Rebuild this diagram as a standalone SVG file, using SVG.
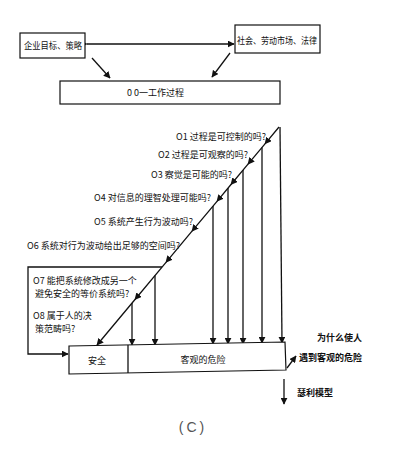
<svg xmlns="http://www.w3.org/2000/svg" width="400" height="450" viewBox="0 0 400 450">
<style>
.box{fill:#fff;stroke:#111;stroke-width:1.2}
.ln{fill:none;stroke:#111;stroke-width:1.3}
.t{font-family:"Noto Sans CJK SC","Liberation Serif",sans-serif;font-size:9px;fill:#111}
.tb{font-family:"Noto Sans CJK SC","Liberation Serif",sans-serif;font-size:9px;fill:#111;font-weight:bold}
</style>
<defs>
<marker id="ah" viewBox="0 0 10 10" refX="9" refY="5" markerWidth="7" markerHeight="7" markerUnits="userSpaceOnUse" orient="auto">
<path d="M0,0 L10,5 L0,10 z" fill="#111"/>
</marker>
</defs>
<rect width="400" height="450" fill="#fff"/>

<g id="connectors">
<line class="ln" x1="87" y1="44" x2="234" y2="44" marker-start="url(#ah)" marker-end="url(#ah)"/>
<line class="ln" x1="92" y1="58" x2="110" y2="78" marker-end="url(#ah)"/>
<line class="ln" x1="230" y1="53" x2="212" y2="77" marker-end="url(#ah)"/>
<path class="ln" d="M279,127 L265,143.8 L248,164.1 L231,184.5 L217,201.3 L192,231.2 L166,262.3 L135,299.5 L97,345" marker-mid="url(#ah)" marker-end="url(#ah)"/>
<line class="ln" x1="280" y1="127" x2="282" y2="343" marker-end="url(#ah)"/>
<line class="ln" x1="262" y1="147.4" x2="262" y2="343" marker-end="url(#ah)"/>
<line class="ln" x1="243" y1="170.1" x2="243" y2="344" marker-end="url(#ah)"/>
<line class="ln" x1="228" y1="188.1" x2="228" y2="344" marker-end="url(#ah)"/>
<line class="ln" x1="213" y1="206.1" x2="213" y2="344" marker-end="url(#ah)"/>
<line class="ln" x1="155" y1="275.5" x2="155" y2="345" marker-end="url(#ah)"/>
<line class="ln" x1="132" y1="303.1" x2="132" y2="345" marker-end="url(#ah)"/>
<polyline class="ln" points="162,267 28,267 28,354 68,354" marker-end="url(#ah)"/>
<line class="ln" x1="287" y1="368" x2="296" y2="356" marker-end="url(#ah)"/>
<line class="ln" x1="284" y1="379" x2="284" y2="404" marker-end="url(#ah)"/>
</g>

<g id="goals">
<rect class="box" x="20" y="33" width="65" height="25"/>
<text class="t" x="24" y="48.5" font-size="8" textLength="58" lengthAdjust="spacingAndGlyphs">企业目标、策略</text>
</g>
<g id="society">
<rect class="box" x="235" y="25" width="85" height="28"/>
<text class="t" x="237" y="44" font-size="8" textLength="80" lengthAdjust="spacingAndGlyphs">社会、劳动市场、法律</text>
</g>
<g id="process">
<rect class="box" x="60" y="81" width="220" height="23"/>
<text class="t" x="127" y="95.5">0 0一工作过程</text>
</g>

<g id="questions">
<text class="t" x="176" y="139.5">O1 过程是可控制的吗?</text>
<text class="t" x="158" y="157.5">O2 过程是可观察的吗?</text>
<text class="t" x="151" y="177.5">O3 察觉是可能的吗?</text>
<text class="t" x="94" y="200.5">O4 对信息的理智处理可能吗?</text>
<text class="t" x="94" y="224.5">O5 系统产生行为波动吗?</text>
<text class="t" x="27" y="248.5" font-size="8.7">O6 系统对行为波动给出足够的空间吗?</text>
<text class="t" x="33" y="284" font-size="7.6">O7 能把系统修改成另一个</text>
<text class="t" x="35" y="296.5" font-size="7.6">避免安全的等价系统吗?</text>
<text class="t" x="33" y="319" font-size="7.6">O8 属于人的决</text>
<text class="t" x="35" y="331.5" font-size="7.6">策范畴吗?</text>
</g>

<g id="outcome">
<polygon class="box" points="69,346 285,342 286,370 69,374"/>
<line class="ln" x1="128" y1="345" x2="128" y2="373"/>
<text class="t" x="97" y="364" text-anchor="middle">安全</text>
<text class="t" x="203" y="363" text-anchor="middle">客观的危险</text>
</g>

<g id="why">
<text class="tb" x="317" y="340.5">为什么使人</text>
<text class="tb" x="299" y="360.5">遇到客观的危险</text>
</g>
<g id="model">
<text class="tb" x="297" y="396" font-size="8.7">瑟利模型</text>
</g>
<text x="193" y="432" text-anchor="middle" font-family="Liberation Sans, sans-serif" font-size="14" fill="#555" letter-spacing="3">(C)</text>
</svg>
